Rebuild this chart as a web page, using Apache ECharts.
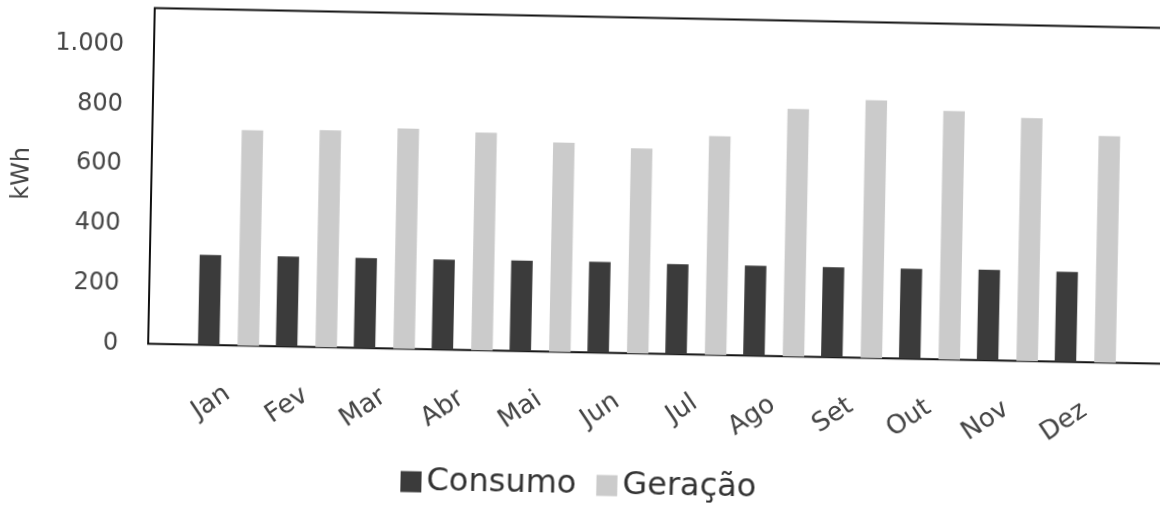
<!DOCTYPE html>
<html>
<head>
<meta charset="utf-8">
<script src="https://cdn.jsdelivr.net/npm/echarts@6/dist/echarts.min.js"></script>
<style>
  html, body { margin: 0; padding: 0; background: #fff; overflow: hidden; width: 1160px; height: 508px; }
  /* a folha foi digitalizada um pouco torta; a moldura passa da borda direita */
  #chart { width: 1200px; height: 508px; transform: rotate(1.13deg); transform-origin: 580px 254px; }
</style>
</head>
<body>
<div id="chart"></div>
<script>
// valores (kWh)
const meses = ['Jan', 'Fev', 'Mar', 'Abr', 'Mai', 'Jun', 'Jul', 'Ago', 'Set', 'Out', 'Nov', 'Dez'];
const consumo = [302, 302, 302, 302, 303, 304, 302, 302, 302, 302, 303, 302];
const geracao = [722, 727, 738, 730, 701, 687, 733, 829, 864, 833, 814, 759];
const yTicks = [0, 200, 400, 600, 800, 1000];
const yTickLabels = ['0', '200', '400', '600', '800', '1.000'];

const fonte = 'DejaVu Sans';

const chart = echarts.init(document.getElementById('chart'));
chart.setOption({
  animation: false,
  color: ['#3b3b3b', '#cbcbcb'],
  textStyle: { fontFamily: fonte },
  legend: {
    data: ['Consumo', 'Geração'],
    left: 405,
    top: 467,
    padding: 0,
    icon: 'rect',
    itemWidth: 21,
    itemHeight: 21,
    itemGap: 20,
    textStyle: { fontSize: 32, color: '#333', fontFamily: fonte, lineHeight: 36 },
  },
  grid: [
    // área das barras
    { left: 191.4, right: 73.8, top: 16.5, bottom: 155.7 },
    // moldura do gráfico
    { left: 150, right: 28, top: 16.5, bottom: 155.7, show: true, borderColor: '#111', borderWidth: 2 },
  ],
  xAxis: [
    {
      type: 'category',
      data: meses,
      axisLine: { show: false },
      axisTick: { show: false },
      axisLabel: { rotate: 35, margin: 46, fontSize: 26, color: '#444', fontFamily: fonte },
    },
    { type: 'value', gridIndex: 1, show: false },
  ],
  yAxis: [
    {
      type: 'value',
      min: 0,
      max: 1125,
      interval: 200,
      offset: 41.4,
      name: 'kWh',
      nameLocation: 'middle',
      nameRotate: 90,
      nameGap: 117,
      nameTextStyle: { fontSize: 24, color: '#444', fontFamily: fonte },
      axisLine: { show: false },
      axisTick: { show: false },
      splitLine: { show: false },
      axisLabel: {
        margin: 30,
        fontSize: 24,
        color: '#444',
        fontFamily: fonte,
        showMaxLabel: false,
        formatter: (v) => {
          const i = yTicks.indexOf(v);
          return i >= 0 ? yTickLabels[i] : '';
        },
      },
    },
    { type: 'value', gridIndex: 1, show: false },
  ],
  series: [
    { name: 'Consumo', type: 'bar', data: consumo, barWidth: 21.5, barGap: '84%' },
    { name: 'Geração', type: 'bar', data: geracao, barWidth: 21.5, barGap: '84%' },
  ],
});
</script>
</body>
</html>
